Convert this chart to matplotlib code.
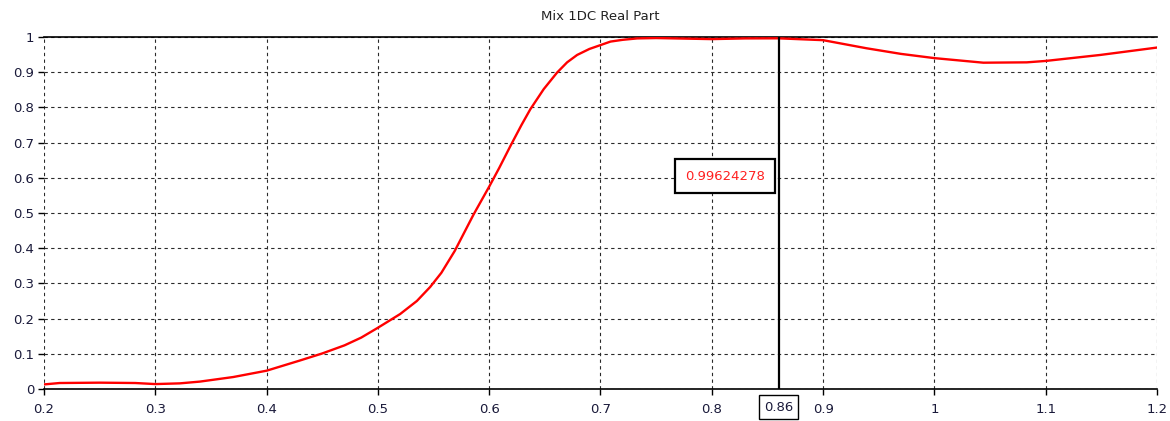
import matplotlib
matplotlib.use("Agg")
import matplotlib.pyplot as plt
import matplotlib.transforms as mtransforms
from matplotlib.patches import Rectangle

# Frequency sweep and real part of the mixed response
freq = [0.2, 0.214, 0.25, 0.282, 0.3, 0.322, 0.34, 0.37, 0.4, 0.43, 0.45,
        0.47, 0.485, 0.5, 0.52, 0.535, 0.547, 0.557, 0.569, 0.586, 0.6, 0.609,
        0.619, 0.629, 0.637, 0.649, 0.661, 0.67, 0.679, 0.69, 0.7, 0.709,
        0.72, 0.733, 0.75, 0.8, 0.83, 0.86, 0.9, 0.939, 0.97, 1.0, 1.044,
        1.083, 1.1, 1.149, 1.2]
real_part = [0.013, 0.017, 0.018, 0.017, 0.014, 0.016, 0.021, 0.034, 0.052,
             0.081, 0.101, 0.124, 0.146, 0.174, 0.213, 0.250, 0.290, 0.330,
             0.392, 0.496, 0.575, 0.628, 0.690, 0.750, 0.795, 0.852, 0.899,
             0.928, 0.949, 0.966, 0.977, 0.987, 0.992, 0.996, 0.997, 0.994,
             0.996, 0.99624278, 0.991, 0.968, 0.952, 0.940, 0.927, 0.928,
             0.932, 0.949, 0.970]

cursor_x = 0.86
cursor_value = 0.99624278
readout_y = 0.605
x_ticks = [0.2, 0.3, 0.4, 0.5, 0.6, 0.7, 0.8, 0.9, 1.0, 1.1, 1.2]
x_labels = ["0.2", "0.3", "0.4", "0.5", "0.6", "0.7", "0.8", "0.9", "1", "1.1", "1.2"]
y_ticks = [0, 0.1, 0.2, 0.3, 0.4, 0.5, 0.6, 0.7, 0.8, 0.9, 1.0]
y_labels = ["0", "0.1", "0.2", "0.3", "0.4", "0.5", "0.6", "0.7", "0.8", "0.9", "1"]

label_color = "#1a1a3a"

fig = plt.figure(figsize=(11.7, 4.21), dpi=100)
ax = fig.add_axes([44 / 1170, 1 - 389 / 421, (1157 - 44) / 1170, (389 - 37) / 421])

ax.plot(freq, real_part, color="#ff0000", lw=1.7, solid_joinstyle="round", zorder=3)

ax.set_xlim(0.2, 1.2)
ax.set_ylim(0, 1)
ax.set_xticks(x_ticks)
ax.set_xticklabels(x_labels)
ax.set_yticks(y_ticks)
ax.set_yticklabels(y_labels)
ax.tick_params(axis="both", labelsize=9.5, colors="black", labelcolor=label_color,
               length=4, width=1, direction="out")
ax.tick_params(axis="x", pad=6)
ax.tick_params(axis="y", pad=3)

ax.grid(True, color="#2a2a2a", linestyle=(0, (3, 3)), linewidth=0.8, zorder=1)
ax.set_axisbelow(True)

for side in ("left", "right"):
    ax.spines[side].set_visible(False)
for side in ("top", "bottom"):
    ax.spines[side].set_color("black")
    ax.spines[side].set_linewidth(1.2)

ax.set_title("Mix 1DC Real Part", fontsize=9.5, color="#222222", pad=12)

# Cursor line
ax.axvline(cursor_x, color="black", lw=1.6, zorder=4)

# Value readout: box sized in pixels, anchored to the left of the cursor
anchor = mtransforms.ScaledTranslation(cursor_x, readout_y, ax.transData)
ax.add_patch(Rectangle((-104, -17), 100, 34, transform=mtransforms.Affine2D() + anchor,
                       fc="white", ec="black", lw=1.6, zorder=5, clip_on=False))
ax.annotate(f"{cursor_value:.8f}", xy=(cursor_x, readout_y), xycoords="data",
            xytext=(-38.5, 0), textcoords="offset points",
            ha="center", va="center", fontsize=9.5, color="#ff2020", zorder=6)

# Cursor position on the frequency axis
ax.annotate(f"{cursor_x:.2f}", xy=(cursor_x, 0), xycoords=("data", "axes fraction"),
            xytext=(0, -13), textcoords="offset points",
            ha="center", va="center", fontsize=9.5, color=label_color, zorder=5,
            annotation_clip=False,
            bbox=dict(boxstyle="square,pad=0.4", fc="white", ec="black", lw=1))

fig.savefig("out.png", dpi=100)
